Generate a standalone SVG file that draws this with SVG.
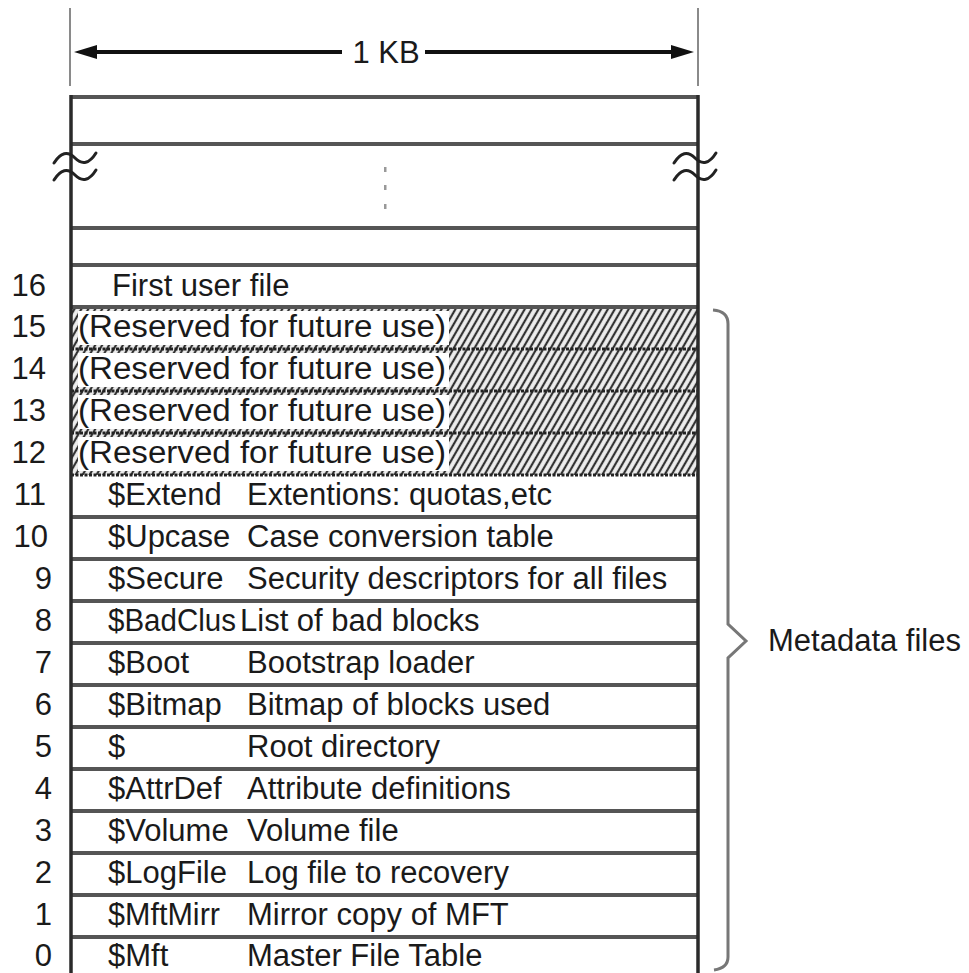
<svg xmlns="http://www.w3.org/2000/svg" width="969" height="973" viewBox="0 0 969 973">
<defs>
<pattern id="hatch" width="6" height="6" patternUnits="userSpaceOnUse" patternTransform="rotate(30)">
<rect width="6" height="6" fill="#eeeeee"/>
<line x1="3" y1="0" x2="3" y2="6" stroke="#333" stroke-width="2.2"/>
</pattern>
</defs>
<style>
text{font-family:"Liberation Sans",Arial,sans-serif;font-size:31px;fill:#1a1a1a}
.num{text-anchor:end}
.hl{stroke:#555;stroke-width:4}
.hd{stroke:#222;stroke-width:3;stroke-dasharray:3 1.5}
.vl{stroke:#2a2a2a;stroke-width:3.5}
.ext{stroke:#8a8a8a;stroke-width:2}
.tilde{fill:none;stroke:#222;stroke-width:3;stroke-linecap:round}
.brace{fill:none;stroke:#777;stroke-width:3}
</style>
<rect width="969" height="973" fill="#fff"/>

<g id="dimension">
<line class="ext" x1="70" y1="8" x2="70" y2="86"/>
<line class="ext" x1="698" y1="8" x2="698" y2="86"/>
<line x1="90" y1="52" x2="342" y2="52" stroke="#111" stroke-width="4"/>
<line x1="425" y1="52" x2="680" y2="52" stroke="#111" stroke-width="4"/>
<polygon points="74,52 97,45 97,59" fill="#111"/>
<polygon points="694,52 671,45 671,59" fill="#111"/>
<text x="386" y="63" text-anchor="middle">1 KB</text>
</g>

<g id="upper-rows">
<line class="hl" x1="71" y1="97" x2="698" y2="97"/>
<line class="hl" x1="71" y1="144" x2="698" y2="144"/>
<line class="hl" x1="71" y1="228" x2="698" y2="228"/>
<line class="hl" x1="71" y1="265" x2="698" y2="265"/>
<g fill="#999">
<rect x="384" y="167" width="2.5" height="5"/>
<rect x="384" y="185" width="2.5" height="5"/>
<rect x="384" y="204" width="2.5" height="5"/>
</g>
</g>

<g id="hatched-rows">
<rect x="72" y="307" width="625" height="168" fill="url(#hatch)"/>
<g fill="#fff">
<rect x="78" y="311" width="371" height="34"/>
<rect x="78" y="353" width="371" height="34"/>
<rect x="78" y="395" width="371" height="34"/>
<rect x="78" y="437" width="371" height="34"/>
</g>
</g>

<g id="row16"><text class="num" x="46" y="296">16</text><text x="112" y="296">First user file</text></g>
<g id="row15"><text class="num" x="46" y="337">15</text><text x="78" y="337" textLength="368" lengthAdjust="spacingAndGlyphs">(Reserved for future use)</text></g>
<g id="row14"><text class="num" x="46" y="379">14</text><text x="78" y="379" textLength="368" lengthAdjust="spacingAndGlyphs">(Reserved for future use)</text></g>
<g id="row13"><text class="num" x="46" y="421">13</text><text x="78" y="421" textLength="368" lengthAdjust="spacingAndGlyphs">(Reserved for future use)</text></g>
<g id="row12"><text class="num" x="46" y="463">12</text><text x="78" y="463" textLength="368" lengthAdjust="spacingAndGlyphs">(Reserved for future use)</text></g>
<g id="row11"><text class="num" x="46" y="505">11</text><text x="108" y="505">$Extend</text><text x="247" y="505">Extentions: quotas,etc</text></g>
<g id="row10"><text class="num" x="48" y="547">10</text><text x="108" y="547">$Upcase</text><text x="247" y="547">Case conversion table</text></g>
<g id="row9"><text class="num" x="52" y="589">9</text><text x="108" y="589">$Secure</text><text x="247" y="589">Security descriptors for all files</text></g>
<g id="row8"><text class="num" x="52" y="631">8</text><text x="108" y="631" textLength="128" lengthAdjust="spacingAndGlyphs">$BadClus</text><text x="240" y="631">List of bad blocks</text></g>
<g id="row7"><text class="num" x="52" y="673">7</text><text x="108" y="673">$Boot</text><text x="247" y="673">Bootstrap loader</text></g>
<g id="row6"><text class="num" x="52" y="715">6</text><text x="108" y="715">$Bitmap</text><text x="247" y="715">Bitmap of blocks used</text></g>
<g id="row5"><text class="num" x="52" y="757">5</text><text x="108" y="757">$</text><text x="247" y="757">Root directory</text></g>
<g id="row4"><text class="num" x="52" y="799">4</text><text x="108" y="799">$AttrDef</text><text x="247" y="799">Attribute definitions</text></g>
<g id="row3"><text class="num" x="52" y="841">3</text><text x="108" y="841">$Volume</text><text x="247" y="841">Volume file</text></g>
<g id="row2"><text class="num" x="52" y="883">2</text><text x="108" y="883">$LogFile</text><text x="247" y="883">Log file to recovery</text></g>
<g id="row1"><text class="num" x="52" y="925">1</text><text x="108" y="925" textLength="112" lengthAdjust="spacingAndGlyphs">$MftMirr</text><text x="247" y="925">Mirror copy of MFT</text></g>
<g id="row0"><text class="num" x="52" y="966">0</text><text x="108" y="966">$Mft</text><text x="247" y="966">Master File Table</text></g>

<g id="row-lines">
<line class="hl" x1="71" y1="307" x2="698" y2="307"/>
<line class="hd" x1="71" y1="349" x2="698" y2="349"/>
<line class="hd" x1="71" y1="391" x2="698" y2="391"/>
<line class="hd" x1="71" y1="433" x2="698" y2="433"/>
<line class="hd" x1="71" y1="475" x2="698" y2="475"/>
<line class="hl" x1="71" y1="517" x2="698" y2="517"/>
<line class="hl" x1="71" y1="559" x2="698" y2="559"/>
<line class="hl" x1="71" y1="601" x2="698" y2="601"/>
<line class="hl" x1="71" y1="643" x2="698" y2="643"/>
<line class="hl" x1="71" y1="685" x2="698" y2="685"/>
<line class="hl" x1="71" y1="727" x2="698" y2="727"/>
<line class="hl" x1="71" y1="769" x2="698" y2="769"/>
<line class="hl" x1="71" y1="811" x2="698" y2="811"/>
<line class="hl" x1="71" y1="853" x2="698" y2="853"/>
<line class="hl" x1="71" y1="895" x2="698" y2="895"/>
<line class="hl" x1="71" y1="937" x2="698" y2="937"/>
</g>

<g id="box-sides">
<line class="vl" x1="71" y1="95" x2="71" y2="973"/>
<line class="vl" x1="698" y1="95" x2="698" y2="973"/>
</g>

<g id="breaks">
<path class="tilde" d="M54,163 Q64,147 75,158 Q86,169 96,153"/>
<path class="tilde" d="M54,180 Q64,164 75,175 Q86,186 96,170"/>
<path class="tilde" d="M674,163 Q684,147 695,158 Q706,169 716,153"/>
<path class="tilde" d="M674,180 Q684,164 695,175 Q706,186 716,170"/>
</g>

<g id="connectors">
<path class="brace" d="M713,310 Q728,311 728,324 L728,624 L746,641 L728,658 L728,957 Q728,968 714,970"/>
</g>

<g id="metadata-label">
<text x="768" y="651">Metadata files</text>
</g>
</svg>
